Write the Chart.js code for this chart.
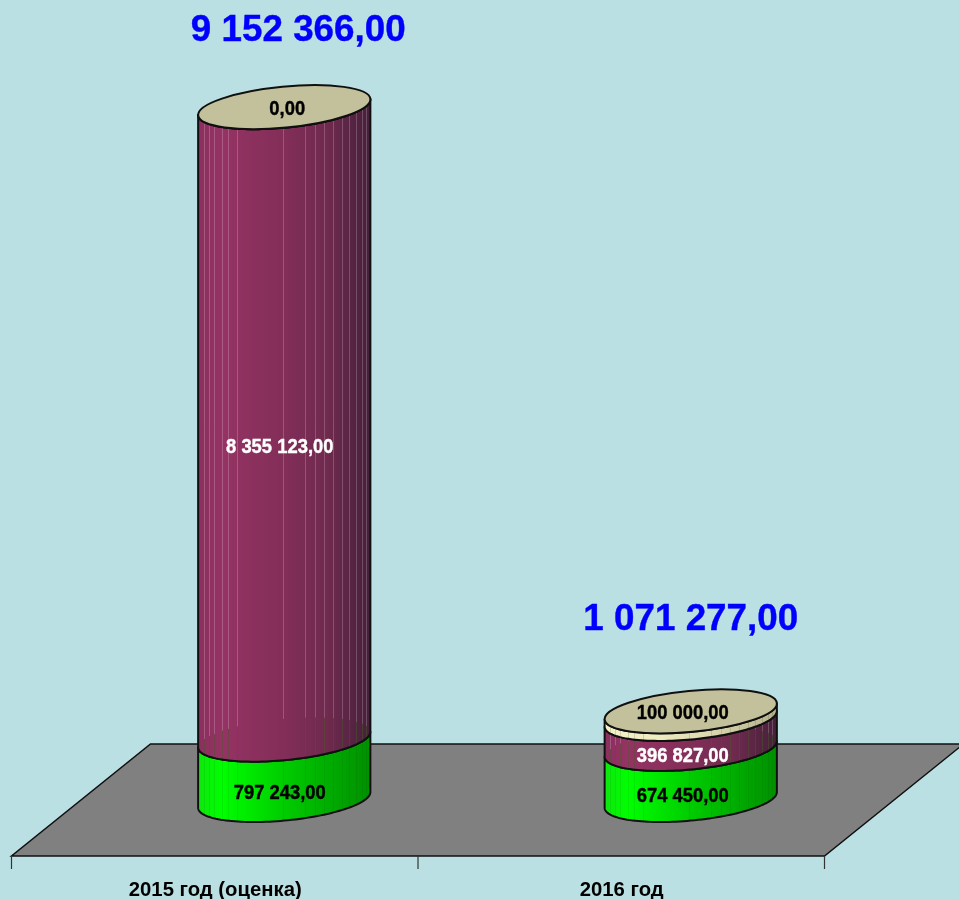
<!DOCTYPE html>
<html><head><meta charset="utf-8">
<style>html,body{margin:0;padding:0;background:#BBE0E3;overflow:hidden}#w{width:959px;height:899px;position:relative}canvas{display:block}</style>
<script src="https://cdn.jsdelivr.net/npm/chart.js@4"></script>
</head><body><div id="w"><canvas id="c" width="959" height="899"></canvas></div>
<script>
const categories = ['2015 год (оценка)', '2016 год'];
const seriesGreen = [797243, 674450];
const seriesMaroon = [8355123, 396827];
const seriesBeige = [0, 100000];
const totals = [9152366, 1071277];

const sideStops = [
  [[0,'#0fe60f'],[0.14,'#00ff00'],[0.5,'#00cc00'],[1,'#008f00']],
  [[0,'#8a2f5e'],[0.14,'#953364'],[0.5,'#822e58'],[0.75,'#6f2a4e'],[1,'#45203a']],
  [[0,'#f4f1c8'],[0.3,'#efecc2'],[0.6,'#dcd9b0'],[1,'#b3b18c']]
];
const facets = [.035,.064,.092,.139,.173,.225,.491,.618,.676,.728,.78,.832,.873,.913,.948,.971];
const TILT = -5.5 * Math.PI / 180, RY = 20.5;
const TOTAL_OFF = [[14,-76],[0,-91]];
const LABEL_DX = [-4.5,-8];
const LABEL_DY = [24,22.5];

function fmt(v){
  return String(Math.trunc(v)).replace(/\B(?=(\d{3})+$)/g,' ') + ',00';
}
function ePoint(cx,cy,rx,t){
  const a = rx*Math.cos(t), b = RY*Math.sin(t);
  return [cx + a*Math.cos(TILT) - b*Math.sin(TILT), cy + a*Math.sin(TILT) + b*Math.cos(TILT)];
}
// parameter of the right-most point of the tilted ellipse
function tRight(rx){ return Math.atan2(-RY*Math.sin(TILT), rx*Math.cos(TILT)); }
function arcPts(cx,cy,rx,from,to){
  const pts=[]; const n=72;
  for(let i=0;i<=n;i++){ pts.push(ePoint(cx,cy,rx,from+(to-from)*i/n)); }
  return pts;
}
function yOnArc(pts,x){
  let best=pts[0],d=1e9;
  for(const p of pts){const q=Math.abs(p[0]-x); if(q<d){d=q;best=p;}}
  return best[1];
}
function drawSide(ctx,bar,di){
  const cx=bar.x, rx=bar.width/2, t0=tRight(rx);
  const lower=arcPts(cx,bar.base,rx,t0,t0+Math.PI);   // front, right to left
  const upper=arcPts(cx,bar.y,rx,t0,t0+Math.PI);
  const lowerBack=arcPts(cx,bar.base,rx,t0+Math.PI,t0+2*Math.PI);
  const g=ctx.createLinearGradient(cx-rx,0,cx+rx,0);
  sideStops[di].forEach(s=>g.addColorStop(s[0],s[1]));
  ctx.beginPath();
  lower.forEach((p,i)=>i?ctx.lineTo(p[0],p[1]):ctx.moveTo(p[0],p[1]));
  upper.slice().reverse().forEach(p=>ctx.lineTo(p[0],p[1]));
  ctx.closePath();
  ctx.fillStyle=g; ctx.fill();
  ctx.save(); ctx.clip();
  ctx.lineWidth=1;
  facets.forEach(f=>{
    const x=Math.round(cx-rx+f*bar.width)+0.5;
    const yTop=yOnArc(upper,x), yFront=yOnArc(lower,x), yBack=yOnArc(lowerBack,x);
    if(di===1){
      ctx.strokeStyle='rgba(255,255,255,0.2)';
      ctx.beginPath();ctx.moveTo(x,yTop);ctx.lineTo(x,Math.max(yTop,yBack));ctx.stroke();
      ctx.strokeStyle='rgba(70,90,40,0.45)';
      ctx.beginPath();ctx.moveTo(x,Math.max(yTop,yBack));ctx.lineTo(x,yFront);ctx.stroke();
    }else{
      ctx.strokeStyle='rgba(0,70,0,0.08)';
      if(di===2) ctx.strokeStyle='rgba(90,90,50,0.2)';
      ctx.beginPath();ctx.moveTo(x,yTop);ctx.lineTo(x,yFront);ctx.stroke();
    }
  });
  ctx.restore();
  ctx.beginPath();
  lower.forEach((p,i)=>i?ctx.lineTo(p[0],p[1]):ctx.moveTo(p[0],p[1]));
  upper.slice().reverse().forEach(p=>ctx.lineTo(p[0],p[1]));
  ctx.closePath();
  ctx.strokeStyle='#101010'; ctx.lineWidth=2; ctx.lineJoin='round'; ctx.stroke();
}
function drawText(ctx,text,x,y,font,color,sx){
  ctx.save();
  ctx.translate(x,y); ctx.scale(sx,1);
  ctx.font=font; ctx.fillStyle=color; ctx.strokeStyle=color; ctx.lineWidth=0.4;
  ctx.textAlign='center'; ctx.textBaseline='middle';
  ctx.fillText(text,0,0);
  ctx.strokeText(text,0,0);
  ctx.restore();
}
const cylinders = {
  id:'cylinders',
  beforeDatasetDraw(){ return false; },
  beforeDatasetsDraw(chart){
    const {ctx,scales:{x,y}}=chart;
    const zero=y.getPixelForValue(0);
    const dx=69.5, dy=56;
    // floor
    ctx.save();
    ctx.beginPath();
    ctx.moveTo(x.left-dx,zero+dy); ctx.lineTo(x.right-dx,zero+dy);
    ctx.lineTo(x.right+dx,zero-dy); ctx.lineTo(x.left+dx,zero-dy); ctx.closePath();
    ctx.fillStyle='#808080'; ctx.fill();
    ctx.strokeStyle='#101010'; ctx.lineWidth=1.5; ctx.stroke();
    // category ticks
    ctx.strokeStyle='#333'; ctx.lineWidth=1.2;
    [0,1,2].forEach(i=>{
      const tx=x.left-dx+(x.right-x.left)*i/2;
      ctx.beginPath();ctx.moveTo(tx,zero+dy);ctx.lineTo(tx,zero+dy+13);ctx.stroke();
    });
    // cylinders
    categories.forEach((_,ci)=>{
      let top=null;
      [0,1,2].forEach(di=>{
        const bar=chart.getDatasetMeta(di).data[ci];
        drawSide(ctx,bar,di);
        top=bar;
      });
      const rx=top.width/2;
      ctx.beginPath();
      ctx.ellipse(top.x,top.y,rx,RY,TILT,0,Math.PI*2);
      ctx.fillStyle='#C2C19B'; ctx.fill();
      ctx.strokeStyle='#101010'; ctx.lineWidth=2; ctx.stroke();
    });
    ctx.restore();
  },
  afterDatasetsDraw(chart){
    const {ctx}=chart;
    const valueFont='bold 20px "Liberation Sans", Arial, sans-serif';
    categories.forEach((_,ci)=>{
      [0,1,2].forEach(di=>{
        const bar=chart.getDatasetMeta(di).data[ci];
        const v=chart.data.datasets[di].data[ci];
        const mid=(bar.y+bar.base)/2;
        const yy= di===2 ? bar.y+2.5 : mid+LABEL_DY[ci];
        const xx= (di===2&&v===0) ? bar.x+3 : bar.x+LABEL_DX[ci];
        drawText(ctx,fmt(v),xx,yy,valueFont,di===1?'#ffffff':'#000000',0.92);
      });
      const top=chart.getDatasetMeta(2).data[ci];
      drawText(ctx,fmt(totals[ci]),top.x+TOTAL_OFF[ci][0],top.y+TOTAL_OFF[ci][1],
        'bold 36.8px "Liberation Sans", Arial, sans-serif','#0000FF',1);
    });
  }
};
new Chart(document.getElementById('c'),{
  type:'bar',
  data:{labels:categories,datasets:[
    {label:'Зелёный',data:seriesGreen,backgroundColor:'#00e000'},
    {label:'Бордовый',data:seriesMaroon,backgroundColor:'#862f5a'},
    {label:'Бежевый',data:seriesBeige,backgroundColor:'#C2C19B'}
  ]},
  options:{
    responsive:false,animation:false,
    layout:{padding:{left:81,right:65,top:43,bottom:0}},
    plugins:{legend:{display:false},tooltip:{enabled:false},title:{display:false}},
    datasets:{bar:{barThickness:173}},
    scales:{
      x:{stacked:true,
        grid:{display:false},border:{display:false},
        afterFit(s){s.height=99;},
        ticks:{padding:70,labelOffset:-69,maxRotation:0,autoSkip:false,color:'#000',
          font:{family:'"Liberation Sans", Arial, sans-serif',weight:'bold',size:20.3}}},
      y:{stacked:true,display:false,min:0,max:10000000}
    }
  },
  plugins:[cylinders]
});
</script>
</body></html>
